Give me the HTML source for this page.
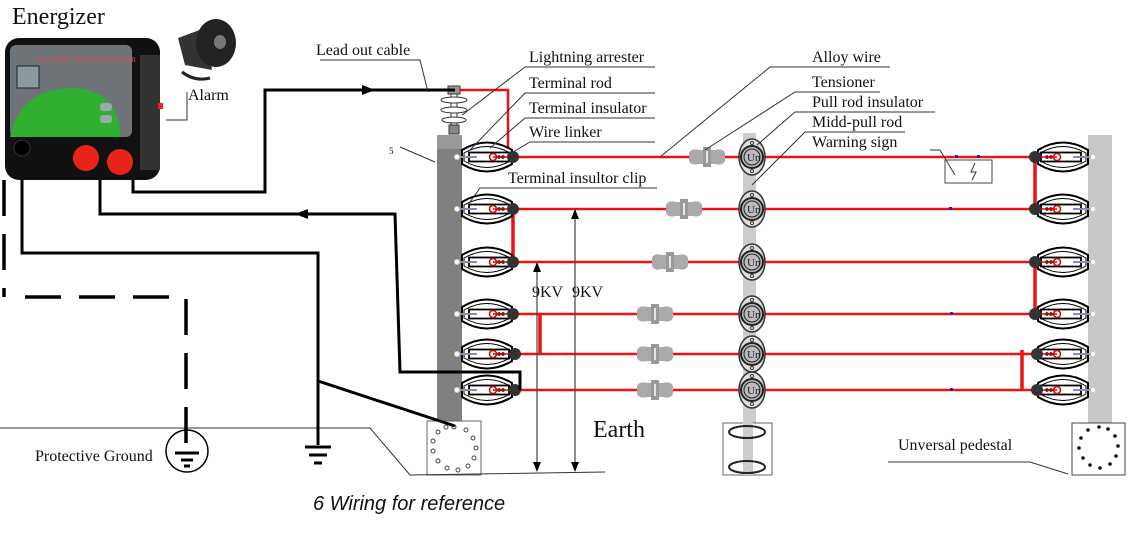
<!DOCTYPE html>
<html><head><meta charset="utf-8"><style>
html,body{margin:0;padding:0;background:#fff;}
svg{display:block;}
text{font-family:"Liberation Serif",serif;fill:#111;}
</style></head><body>
<svg width="1133" height="533" viewBox="0 0 1133 533" xmlns="http://www.w3.org/2000/svg">
<defs>
<g id="insL">
<path d="M-25,-7 Q0,-22 25,-7 L25,7 Q0,22 -25,7 Z" fill="#fff" stroke="#000" stroke-width="2"/>
<path d="M-23,-4 Q0,-17 23,-4 L23,4 Q0,17 -23,4 Z" fill="none" stroke="#000" stroke-width="1"/>
<rect x="-18" y="-4.5" width="40" height="9" fill="#fff" stroke="#000" stroke-width="1.8"/>
<line x1="-30" y1="0" x2="-10" y2="0" stroke="#8888bb" stroke-width="2"/>
<circle cx="-30" cy="0" r="2.5" fill="#fff" stroke="#ccc"/>
<circle cx="6" cy="0" r="3.5" fill="#fff" stroke="#c00" stroke-width="1.5"/>
<circle cx="12" cy="0" r="1.8" fill="#000"/>
<circle cx="16" cy="0" r="1.8" fill="#000"/>
<line x1="6" y1="0" x2="24" y2="0" stroke="#e00" stroke-width="1.5"/>
</g>
<g id="ten">
<path d="M-18,-4 Q-16,-9 -8,-7 L8,-7 Q16,-9 18,-4 L18,4 Q16,9 8,7 L-8,7 Q-16,9 -18,4 Z" fill="#aaa"/>
<rect x="-4" y="-10" width="8" height="20" fill="#999"/>
<line x1="0" y1="-6" x2="0" y2="6" stroke="#fff" stroke-width="1.5"/>
</g>
<g id="pull">
<ellipse cx="0" cy="0" rx="13" ry="18" fill="#ddd" stroke="#333" stroke-width="1.5"/>
<circle cx="0" cy="0" r="11" fill="#bbb" stroke="#222" stroke-width="2"/>
<circle cx="0" cy="0" r="8" fill="none" stroke="#222" stroke-width="1"/>
<text x="-5" y="4" font-size="11" style="fill:#222">Un</text>
<circle cx="0" cy="-14" r="1.5" fill="#fff" stroke="#333"/>
<circle cx="0" cy="14" r="1.5" fill="#fff" stroke="#333"/>
</g>
</defs>

<rect x="437" y="148" width="25" height="282" fill="#808080"/>
<rect x="437" y="135" width="25" height="14" fill="#999"/>
<rect x="743" y="133" width="13" height="290" fill="#ccc"/>
<rect x="1088" y="135" width="24" height="295" fill="#c8c8c8"/>

<rect x="427" y="421" width="54" height="54" fill="#fff" stroke="#666"/>
<g fill="#fff" stroke="#444" stroke-width="1">
<circle cx="454" cy="427" r="2"/><circle cx="466" cy="430" r="2"/><circle cx="473" cy="438" r="2"/><circle cx="476" cy="448" r="2"/><circle cx="474" cy="458" r="2"/><circle cx="468" cy="466" r="2"/><circle cx="458" cy="470" r="2"/><circle cx="447" cy="468" r="2"/><circle cx="438" cy="461" r="2"/><circle cx="433" cy="451" r="2"/><circle cx="433" cy="441" r="2"/><circle cx="438" cy="432" r="2"/><circle cx="446" cy="427" r="2"/>
</g>
<rect x="723" y="423" width="49" height="52" fill="#fff" stroke="#666"/>
<rect x="743" y="420" width="10" height="55" fill="#ccc"/>
<ellipse cx="747" cy="432" rx="18" ry="6" fill="none" stroke="#222" stroke-width="2"/>
<ellipse cx="747" cy="467" rx="18" ry="6" fill="none" stroke="#222" stroke-width="2"/>
<rect x="1072" y="423" width="53" height="52" fill="#fff" stroke="#444"/>
<g fill="#111">
<circle cx="1099" cy="427" r="1.8"/><circle cx="1108" cy="429" r="1.8"/><circle cx="1115" cy="436" r="1.8"/><circle cx="1118" cy="446" r="1.8"/><circle cx="1116" cy="456" r="1.8"/><circle cx="1110" cy="464" r="1.8"/><circle cx="1100" cy="468" r="1.8"/><circle cx="1090" cy="465" r="1.8"/><circle cx="1083" cy="458" r="1.8"/><circle cx="1079" cy="448" r="1.8"/><circle cx="1081" cy="438" r="1.8"/><circle cx="1088" cy="430" r="1.8"/>
</g>

<polyline points="0,428 370,428 410,475 605,472" fill="none" stroke="#333" stroke-width="1"/>
<polyline points="888,462 1030,462 1068,474" fill="none" stroke="#333" stroke-width="1"/>

<g stroke="#ee1111" stroke-width="2.5" fill="none">
<line x1="513" y1="157" x2="1035" y2="157"/>
<line x1="513" y1="209" x2="1035" y2="209"/>
<line x1="513" y1="262" x2="1035" y2="262"/>
<line x1="513" y1="314" x2="1035" y2="314"/>
<line x1="513" y1="354" x2="1035" y2="354"/>
<line x1="513" y1="390" x2="1035" y2="390"/>
<polyline points="455,90 508,90 508,157"/>
<line x1="513" y1="209" x2="513" y2="262" stroke-width="3.5"/>
<line x1="540" y1="314" x2="540" y2="354" stroke-width="3.5"/>
<line x1="1035" y1="157" x2="1035" y2="209" stroke-width="3.5"/>
<line x1="1035" y1="262" x2="1035" y2="314" stroke-width="3.5"/>
<line x1="1022" y1="350" x2="1022" y2="391" stroke-width="3.5"/>
</g>
<g fill="#2222cc">
<rect x="949" y="207" width="3" height="3"/><rect x="950" y="312" width="3" height="3"/><rect x="950" y="388" width="3" height="3"/><rect x="955" y="155" width="3" height="3"/><rect x="977" y="155" width="3" height="3"/>
</g>

<g>
<use href="#insL" x="487" y="157"/><use href="#insL" x="487" y="209"/><use href="#insL" x="487" y="262"/>
<use href="#insL" x="487" y="314"/><use href="#insL" x="487" y="354"/><use href="#insL" x="487" y="390"/>
</g>
<g fill="#333">
<circle cx="513" cy="157" r="6"/><circle cx="513" cy="209" r="6"/><circle cx="513" cy="262" r="6"/>
<circle cx="513" cy="314" r="6"/><circle cx="515" cy="354" r="6"/><circle cx="515" cy="390" r="6"/>
</g>
<g transform="translate(2150,0) scale(-1,1)">
<use href="#insL" x="1087" y="157"/><use href="#insL" x="1087" y="209"/><use href="#insL" x="1087" y="262"/>
<use href="#insL" x="1087" y="314"/><use href="#insL" x="1087" y="354"/><use href="#insL" x="1087" y="390"/>
</g>
<g fill="#333">
<circle cx="1035" cy="157" r="6"/><circle cx="1035" cy="209" r="6"/><circle cx="1035" cy="262" r="6"/>
<circle cx="1035" cy="314" r="6"/><circle cx="1037" cy="354" r="6"/><circle cx="1037" cy="390" r="6"/>
</g>

<use href="#ten" x="707" y="157"/><use href="#ten" x="684" y="209"/><use href="#ten" x="670" y="262"/>
<use href="#ten" x="655" y="314"/><use href="#ten" x="655" y="354"/><use href="#ten" x="655" y="390"/>
<use href="#pull" x="752" y="157"/><use href="#pull" x="752" y="209"/><use href="#pull" x="752" y="262"/>
<use href="#pull" x="752" y="314"/><use href="#pull" x="752" y="354"/><use href="#pull" x="752" y="390"/>

<rect x="448" y="86" width="12" height="8" fill="#999" stroke="#333"/>
<rect x="451" y="94" width="6" height="34" fill="#fff" stroke="#333"/>
<g fill="#fff" stroke="#333"><ellipse cx="454" cy="100" rx="13" ry="3"/><ellipse cx="454" cy="110" rx="13" ry="3"/><ellipse cx="454" cy="120" rx="12" ry="3"/></g>
<rect x="449" y="125" width="10" height="9" fill="#888" stroke="#333"/>

<rect x="945" y="160" width="47" height="23" fill="#fff" stroke="#444"/>
<path d="M975,163 L971,172 L976,172 L972,180" fill="none" stroke="#333"/>

<g stroke="#000" stroke-width="3" fill="none">
<polyline points="133,178 133,192 265,192 265,90 455,90"/>
<polyline points="100,178 100,214 395,214 400,372 520,372 520,390"/>
<polyline points="22,178 22,253 318,253 318,445"/>
<line x1="318" y1="381" x2="455" y2="426"/>
<line x1="305" y1="447" x2="331" y2="447"/>
<line x1="309" y1="455" x2="327" y2="455"/>
<line x1="314" y1="463" x2="322" y2="463"/>
</g>
<path d="M362,85 L375,90 L362,95 Z" fill="#000"/>
<path d="M308,209 L295,214 L308,219 Z" fill="#000"/>
<g stroke="#000" stroke-width="3.5" fill="none" stroke-dasharray="36,18">
<line x1="4" y1="180" x2="4" y2="297"/>
<line x1="25" y1="297" x2="170" y2="297"/>
<line x1="186" y1="299" x2="186" y2="452"/>
</g>
<circle cx="187" cy="451" r="21" fill="none" stroke="#000" stroke-width="1.5"/>
<g stroke="#000" stroke-width="3"><line x1="175" y1="453" x2="199" y2="453"/><line x1="181" y1="460" x2="193" y2="460"/><line x1="184" y1="466" x2="190" y2="466"/></g>

<g stroke="#444" stroke-width="1.2">
<line x1="537" y1="266" x2="537" y2="468"/>
<line x1="575" y1="213" x2="575" y2="468"/>
</g>
<g fill="#000">
<path d="M537,262 L533,272 L541,272Z"/><path d="M537,472 L533,462 L541,462Z"/>
<path d="M575,209 L571,219 L579,219Z"/><path d="M575,472 L571,462 L579,462Z"/>
</g>

<g stroke="#333" stroke-width="1" fill="none">
<polyline points="320,60 420,60 428,92"/>
<polyline points="655,67 525,67 462,115"/>
<polyline points="655,93 525,93 470,150"/>
<polyline points="655,118 525,118 490,148"/>
<polyline points="655,142 530,142 513,152"/>
<polyline points="657,188 480,188 468,205"/>
<polyline points="890,67 770,67 660,157"/>
<polyline points="880,92 795,92 705,150"/>
<polyline points="935,112 795,112 757,145"/>
<polyline points="905,132 805,132 752,185"/>
<polyline points="930,150 940,150 955,175"/>
<line x1="400" y1="147" x2="435" y2="162"/>
<polyline points="166,120 187,120 187,92"/>
</g>

<rect x="5" y="38" width="155" height="142" rx="14" fill="#111"/>
<rect x="140" y="55" width="20" height="115" fill="#333"/>
<rect x="10" y="45" width="122" height="92" rx="6" fill="#6f7479"/>
<path d="M10,137 Q20,90 70,88 Q115,88 120,130 L120,137 Z" fill="#30b030"/>
<rect x="17" y="66" width="22" height="22" fill="#8a9aa0" stroke="#222"/>
<rect x="100" y="103" width="12" height="8" rx="3" fill="#9aa"/>
<rect x="100" y="115" width="12" height="8" rx="3" fill="#9aa"/>
<rect x="158" y="103" width="5" height="6" fill="#e22"/>
<circle cx="86" cy="158" r="13" fill="#e8231c"/>
<circle cx="120" cy="162" r="13" fill="#e8231c"/>
<circle cx="22" cy="148" r="8" fill="#000" stroke="#333"/>
<text x="38" y="62" font-size="7" style="fill:#e44" font-family="Liberation Sans">ELECTRIC FENCE ENERGIZER</text>

<path d="M178,38 L205,28 L212,70 L185,65 Z" fill="#333"/>
<ellipse cx="216" cy="43" rx="20" ry="24" fill="#222"/>
<ellipse cx="220" cy="42" rx="6" ry="7" fill="#777"/>
<path d="M182,72 Q195,82 210,78" fill="none" stroke="#222" stroke-width="3"/>

<text x="12" y="24" font-size="24">Energizer</text>
<text x="188" y="100" font-size="16">Alarm</text>
<text x="316" y="55" font-size="16">Lead out cable</text>
<text x="529" y="62" font-size="16">Lightning arrester</text>
<text x="529" y="88" font-size="16">Terminal rod</text>
<text x="529" y="113" font-size="16">Terminal insulator</text>
<text x="529" y="137" font-size="16">Wire linker</text>
<text x="508" y="183" font-size="16">Terminal insultor clip</text>
<text x="812" y="62" font-size="16">Alloy wire</text>
<text x="812" y="87" font-size="16">Tensioner</text>
<text x="812" y="107" font-size="16">Pull rod insulator</text>
<text x="812" y="127" font-size="16">Midd-pull rod</text>
<text x="812" y="147" font-size="16">Warning sign</text>
<text x="389" y="154" font-size="9">5</text>
<text x="532" y="297" font-size="16">9KV</text>
<text x="572" y="297" font-size="16">9KV</text>
<text x="593" y="437" font-size="24">Earth</text>
<text x="898" y="450" font-size="16">Unversal pedestal</text>
<text x="35" y="461" font-size="16">Protective Ground</text>
<text x="313" y="510" font-size="20" font-style="italic" style="font-family:'Liberation Sans',sans-serif">6 Wiring for reference</text>
</svg>
</body></html>
